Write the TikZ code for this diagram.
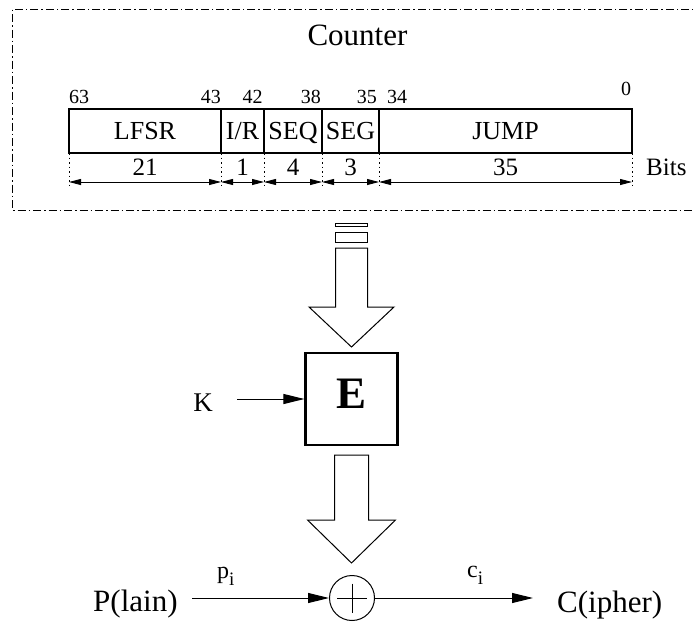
\documentclass[tikz,border=0pt]{standalone}
\usepackage{fontspec}
\setmainfont{Liberation Serif}
\usetikzlibrary{arrows.meta}
\newcommand\fsz[1]{\fontsize{#1}{#1}\selectfont}
\begin{document}
\begin{tikzpicture}[x=1pt,y=-1pt,
  frame/.style={line width=1pt, dash pattern=on 8pt off 3pt on 1.5pt off 3pt},
  field/.style={draw, line width=1.2pt, inner sep=0pt, minimum height=44pt,
                text height=17pt, text depth=0pt, font=\fsz{26}},
  bitno/.style={inner sep=0pt, font=\fsz{20}},
  width/.style={inner sep=0pt, font=\fsz{25}},
  guide/.style={line width=0.9pt, dash pattern=on 1.5pt off 3pt},
  dimarrow/.style={line width=0.9pt, {Triangle[length=12pt,width=6pt]}-{Triangle[length=12pt,width=6pt]}},
  arr/.style={line width=1pt, -{Triangle[length=21pt,width=10pt]}},
  blockarrow/.style={draw, line width=1pt, fill=white},
  label/.style={inner sep=0pt, font=\fsz{31}},
  sig/.style={inner sep=0pt, font=\fsz{24}}]
\useasboundingbox (0,0) rectangle (693,621);
\clip (0,0) rectangle (693,621);

% counter frame (open to the right)
\draw[frame] (720,9) -- (12,9) -- (12,210) -- (720,210);
\node[label, anchor=base] (title) at (357.5,45) {Counter};

% register fields
\node[field, minimum width=152pt] (lfsr) at (145,131)   {LFSR};
\node[field, minimum width=43pt]  (ir)   at (242.5,131) {I/R};
\node[field, minimum width=58pt]  (seq)  at (293,131)   {SEQ};
\node[field, minimum width=57pt]  (seg)  at (350.5,131) {SEG};
\node[field, minimum width=253pt] (jump) at (505.5,131) {JUMP};

% bit positions
\node[bitno, anchor=base west] (b63) at (69,103)    {63};
\node[bitno, anchor=base east] (b43) at (221,103)   {43};
\node[bitno, anchor=base]      (b42) at (252.5,103) {42};
\node[bitno, anchor=base east] (b38) at (321,103)   {38};
\node[bitno, anchor=base east] (b35) at (377,103)   {35};
\node[bitno, anchor=base west] (b34) at (387,103)   {34};
\node[bitno, anchor=base]      (b0)  at (626,95)    {0};

% field widths
\foreach \n/\x in {0/69,1/221,2/264,3/322,4/379,5/632} {
  \coordinate (g\n) at (\x,153);
  \coordinate (e\n) at (\x,188);
  \coordinate (d\n) at (\x,182);
  \draw[guide] (g\n) -- (e\n);
}
\draw[dimarrow] (d0) -- (d1);
\draw[dimarrow] (d1) -- (d2);
\draw[dimarrow] (d2) -- (d3);
\draw[dimarrow] (d3) -- (d4);
\draw[dimarrow] (d4) -- (d5);
\node[width, anchor=base] (w21) at (145,175)   {21};
\node[width, anchor=base] (w1)  at (242.5,175) {1};
\node[width, anchor=base] (w4)  at (293,175)   {4};
\node[width, anchor=base] (w3)  at (350.5,175) {3};
\node[width, anchor=base] (w35) at (505.5,175) {35};
\node[width, anchor=base west] (bits) at (646,175) {Bits};

% counter value feeds the block cipher
\draw[blockarrow] (335.5,223) rectangle (367.5,226);
\draw[blockarrow] (335.5,232) rectangle (367.5,242);
\draw[blockarrow] (335.5,248) -- (335.5,307) -- (309,307) -- (351.5,347)
  -- (394,307) -- (367.5,307) -- (367.5,248) -- cycle;

% block cipher
\node[draw, line width=2.2pt, minimum size=92pt, inner sep=0pt,
      text height=19pt, text depth=0pt, font=\fsz{45}\bfseries] (E) at (351.5,399) {E};
\node[inner sep=0pt, font=\fsz{27}, anchor=base] (K) at (203,411.5) {K};
\coordinate (kin) at (237,399);
\draw[arr] (kin) -- (E.west);

% keystream to the XOR
\draw[blockarrow] (334.5,455) -- (334.5,520) -- (307.5,520) -- (351.5,563)
  -- (395.5,520) -- (368.5,520) -- (368.5,455) -- cycle;

\node[draw, circle, line width=1pt, minimum size=45pt, inner sep=0pt] (xor) at (352,598) {};
\draw[line width=1pt] (352,583.5) -- (352,612.5) (337,598) -- (367,598);

\node[label, anchor=base west] (P) at (93,611)  {P(lain)};
\node[label, anchor=base west] (C) at (557,612) {C(ipher)};
\coordinate (pout) at (192,598);
\coordinate (cin)  at (533,598);
\draw[arr] (pout) -- (xor.west);
\draw[arr] (xor.east) -- (cin);
\node[sig, anchor=base west] (pi) at (217,578) {p\raisebox{-7pt}{\fsz{19}i}};
\node[sig, anchor=base west] (ci) at (467,577) {c\raisebox{-7pt}{\fsz{19}i}};
\end{tikzpicture}
\end{document}
